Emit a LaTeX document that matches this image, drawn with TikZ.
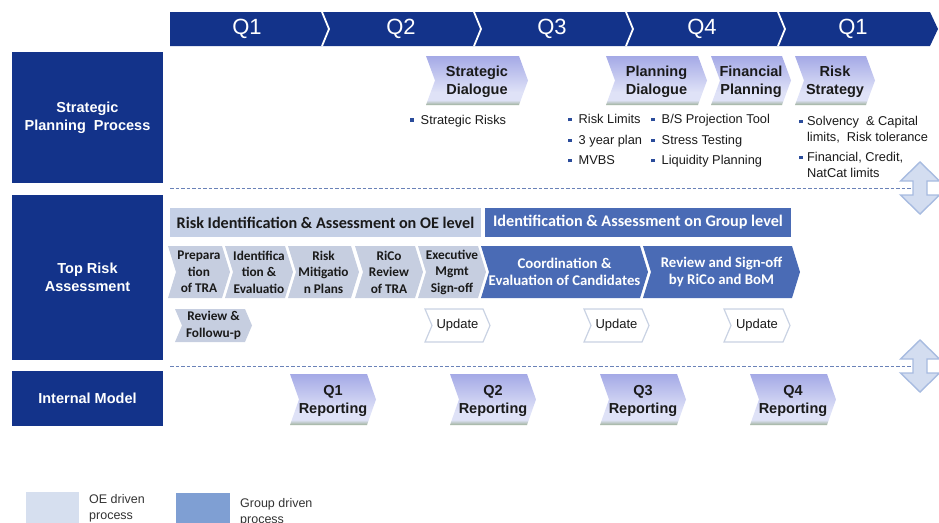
\documentclass[tikz,border=0pt]{standalone}
\usepackage{fontspec}
\setmainfont{Liberation Sans}
\newfontfamily\calibri{Carlito}
\definecolor{navy}{HTML}{13338A}
\definecolor{oebox}{HTML}{C5D0E6}
\definecolor{oechev}{HTML}{C6CEE0}
\definecolor{grp}{HTML}{4A6BB5}
\definecolor{legoe}{HTML}{D6DFEF}
\definecolor{leggrp}{HTML}{7F9FD3}
\definecolor{dashc}{HTML}{6A82B8}
\definecolor{arrfill}{HTML}{D3DDF0}
\definecolor{arrline}{HTML}{A7BBE0}
\definecolor{updline}{HTML}{C9D2E3}
\definecolor{gradtop}{HTML}{A4A9E6}
\definecolor{gradmid}{HTML}{DFE2F7}
\definecolor{gradbot}{HTML}{9EB19B}
\definecolor{bulc}{HTML}{2B4C9B}
\definecolor{txt}{HTML}{1A1A1A}
\pgfdeclareverticalshading{chevshade}{100bp}{color(0bp)=(gradbot); color(25bp)=(gradbot); color(30bp)=(gradmid); color(38bp)=(gradmid); color(75bp)=(gradtop); color(100bp)=(gradtop)}
\newcommand\chev[8]{%
  \path[#7] (#2,#3) -- (#4-#6,#3) -- (#4,{(#3+#5)/2}) -- (#4-#6,#5) -- (#2,#5) -- (#2+#6,{(#3+#5)/2}) -- cycle;
  \node[#7txt] (#1) at ({(#2+#4)/2},{(#3+#5)/2}) {#8};}
\newcommand\bul{\textcolor{bulc}{\raisebox{2.5pt}{\rule{3.4pt}{3.4pt}}}}
\tikzset{
  leftbox/.style={fill=navy, text=white, font=\bfseries\fontsize{14.5}{18}\selectfont, align=center, inner sep=0pt},
  hdrtxt/.style={text=white, font=\fontsize{22}{24}\selectfont},
  strat/.style={shading=chevshade, shade},
  strattxt/.style={text=txt, font=\bfseries\fontsize{14.5}{18}\selectfont, align=center, yshift=-1.5pt},
  oec/.style={fill=oechev},
  oectxt/.style={text=txt, font=\calibri\bfseries\fontsize{13.3}{16.5}\selectfont, align=center},
  grc/.style={fill=grp},
  grctxt/.style={text=white, font=\calibri\bfseries\fontsize{14.8}{17}\selectfont, align=center},
  upd/.style={fill=white, draw=updline, line width=1.2pt},
  updtxt/.style={text=txt, font=\fontsize{13}{15}\selectfont},
  bullets/.style={text=txt, font=\fontsize{12.8}{16}\selectfont, anchor=west, inner sep=0pt, align=left},
  dline/.style={draw=dashc, line width=0.9pt, dash pattern=on 3.5pt off 2pt},
  dbl/.style={fill=arrfill, draw=arrline, line width=1.4pt, line join=miter},
  legtxt/.style={text=black!80, font=\fontsize{12.5}{16}\selectfont, align=left, anchor=north west, inner sep=0pt},
  hdrbox/.style={minimum height=29pt, inner sep=0pt, font=\calibri\bfseries\fontsize{16.2}{18}\selectfont}
}
\begin{document}
\begin{tikzpicture}[x=1pt,y=-1pt]
\useasboundingbox (0,0) rectangle (939,522);
% header band
\fill[navy] (170,12) -- (930,12) -- (938,29) -- (930,46) -- (170,46) -- cycle;
\foreach \b in {322,474,626,778} \draw[white, line width=1.8pt] (\b,12) -- (\b+7,29) -- (\b,46);
\node[hdrtxt] (h1) at (247,29) {Q1};
\node[hdrtxt] (h2) at (401,29) {Q2};
\node[hdrtxt] (h3) at (552,29) {Q3};
\node[hdrtxt] (h4) at (702,29) {Q4};
\node[hdrtxt] (h5) at (853,29) {Q1};
% left boxes
\node[leftbox, minimum width=151pt, minimum height=131pt] (spp) at (87.5,117.5) {Strategic\\Planning\ \ Process};
\node[leftbox, minimum width=151pt, minimum height=165pt] (tra) at (87.5,277.5) {Top Risk\\Assessment};
\node[leftbox, minimum width=151pt, minimum height=55pt] (im) at (87.5,398.5) {Internal Model};
% dashed separators
\coordinate (d1s) at (170,188); \coordinate (d1e) at (912,188);
\coordinate (d2s) at (170,366); \coordinate (d2e) at (912,366);
\draw[dline] (d1s) -- (d1e);
\draw[dline] (d2s) -- (d2e);
% double arrows
\foreach \c in {188,366}
  \path[dbl] (920,\c-26) -- (939.5,\c-7) -- (927,\c-7) -- (927,\c+7) -- (939.5,\c+7) -- (920,\c+26) -- (900.5,\c+7) -- (913,\c+7) -- (913,\c-7) -- (900.5,\c-7) -- cycle;
% strategic chevrons
\chev{sd}{426}{56}{528}{105}{9}{strat}{Strategic\\Dialogue}
\chev{pd}{606}{56}{707}{105}{9}{strat}{Planning\\Dialogue}
\chev{fp}{711}{56}{791}{105}{9}{strat}{Financial\\Planning}
\chev{rs}{795}{56}{875}{105}{9}{strat}{Risk\\Strategy}
% bullets
\node[bullets] (b1) at (410,121) {\bul\ \ Strategic Risks};
\node[bullets, anchor=north west] (b2) at (568,114.5) {\bul\ \ Risk Limits\\[4.5pt]\bul\ \ 3 year plan\\[4.5pt]\bul\ \ MVBS};
\node[bullets, anchor=north west] (b3) at (651,114.5) {\bul\ \ B/S Projection Tool\\[4.5pt]\bul\ \ Stress Testing\\[4.5pt]\bul\ \ Liquidity Planning};
\node[bullets, anchor=north west] (b4) at (799,114.5) {\begin{tabular}{@{}l@{\hspace{4.5pt}}l@{}}\bul & Solvency\ \ \& Capital\\ & limits,\ \ Risk tolerance\\[4pt]\bul & Financial, Credit,\\ & NatCat limits\end{tabular}};
% top risk headers
\node[hdrbox, fill=oebox, minimum width=311pt, text=txt] (oeh) at (325.5,222.5) {Risk Identification \& Assessment on OE level};
\node[hdrbox, fill=grp, minimum width=306pt, text=white] (grh) at (638,222.5) {Identification \& Assessment on Group level};
% top risk chevrons
\chev{c1}{168}{246}{230}{298}{8}{oec}{Prepara\\tion\\of TRA}
\chev{c2}{225}{246}{293}{298}{8}{oec}{Identifica\\tion \&\\Evaluatio}
\chev{c3}{288}{246}{359}{298}{8}{oec}{Risk\\Mitigatio\\n Plans}
\chev{c4}{355}{246}{423}{298}{8}{oec}{RiCo\\Review\\of TRA}
\chev{c5}{418}{246}{486}{298}{8}{oec}{Executive\\Mgmt\\Sign-off}
\chev{c6}{481}{246}{648}{298}{8}{grc}{Coordination \&\\Evaluation of Candidates}
\chev{c7}{643}{246}{800}{298}{8}{grc}{Review and Sign-off\\by RiCo and BoM}
\chev{rf}{175}{309}{252}{342}{7}{oec}{Review \&\\Followu-p}
\chev{u1}{425}{309}{490}{342}{7}{upd}{Update}
\chev{u2}{584}{309}{649}{342}{7}{upd}{Update}
\chev{u3}{724}{309}{790}{342}{7}{upd}{Update}
% internal model chevrons
\chev{q1}{290}{374}{376}{425}{9}{strat}{Q1\\Reporting}
\chev{q2}{450}{374}{536}{425}{9}{strat}{Q2\\Reporting}
\chev{q3}{600}{374}{686}{425}{9}{strat}{Q3\\Reporting}
\chev{q4}{750}{374}{836}{425}{9}{strat}{Q4\\Reporting}
% legend
\node[fill=legoe, minimum width=53pt, minimum height=31pt, inner sep=0pt, anchor=north west] (lg1) at (26,492) {};
\node[legtxt] (lt1) at (89,494.5) {OE driven\\process};
\node[fill=leggrp, minimum width=54pt, minimum height=31pt, inner sep=0pt, anchor=north west] (lg2) at (176,493) {};
\node[legtxt] (lt2) at (240,498) {Group driven\\process};
\end{tikzpicture}
\end{document}
